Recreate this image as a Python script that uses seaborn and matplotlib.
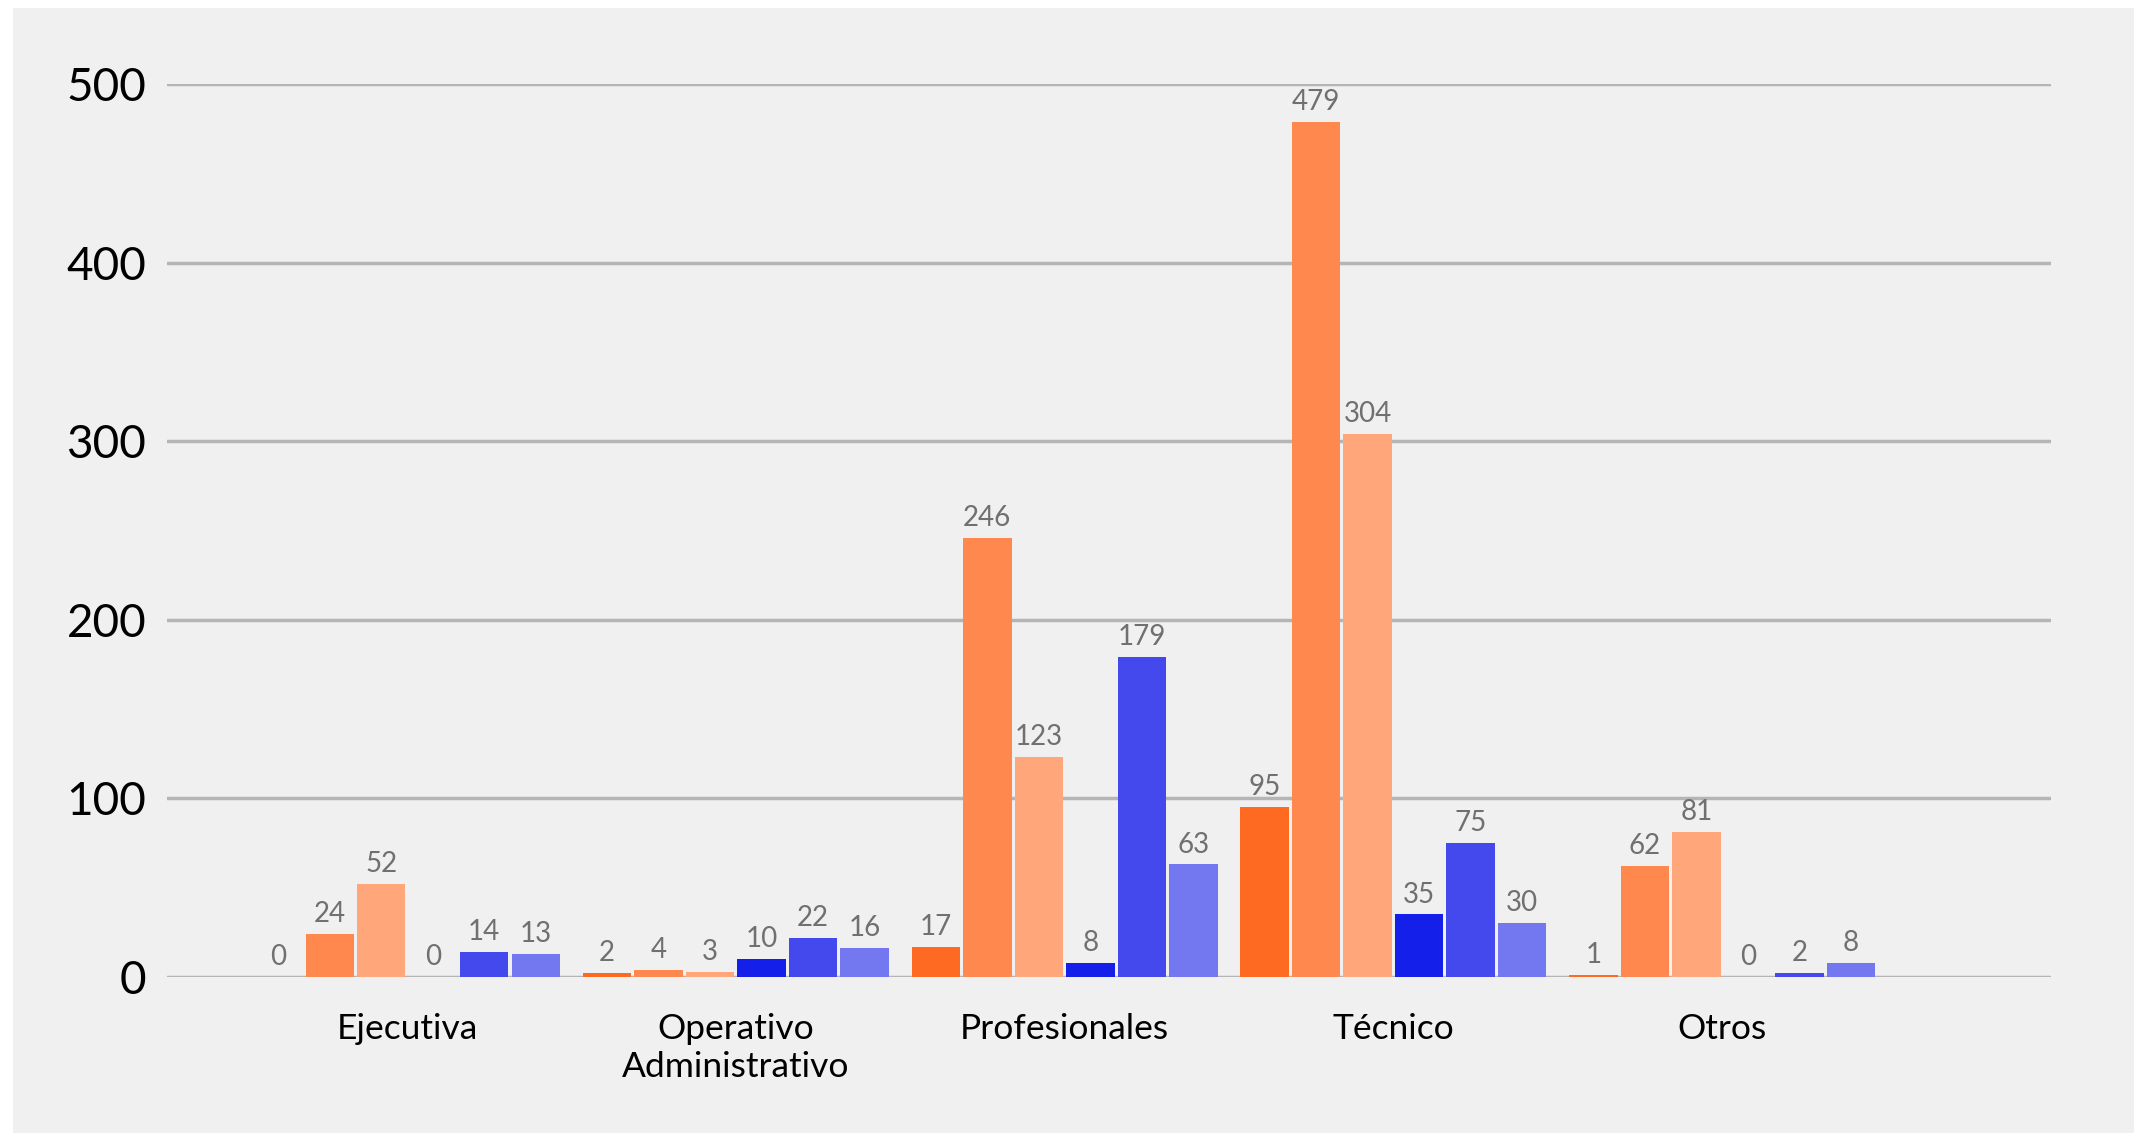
import matplotlib
matplotlib.use("Agg")
import matplotlib.pyplot as plt
import seaborn as sns
import pandas as pd
from matplotlib.patches import Rectangle

categorias = ["Ejecutiva", "Operativo\nAdministrativo", "Profesionales", "Técnico", "Otros"]
series = ["Serie 1", "Serie 2", "Serie 3", "Serie 4", "Serie 5", "Serie 6"]
serie_1 = [0, 2, 17, 95, 1]
serie_2 = [24, 4, 246, 479, 62]
serie_3 = [52, 3, 123, 304, 81]
serie_4 = [0, 10, 8, 35, 0]
serie_5 = [14, 22, 179, 75, 2]
serie_6 = [13, 16, 63, 30, 8]
colores = ["#FF6A23", "#FF884F", "#FFA67A", "#151FEA", "#4349EC", "#7378F1"]
yticks = [0, 100, 200, 300, 400, 500]

valores = [serie_1, serie_2, serie_3, serie_4, serie_5, serie_6]
rows = []
for s, vals in zip(series, valores):
    for c, v in zip(categorias, vals):
        rows.append({"categoria": c, "serie": s, "valor": v})
df = pd.DataFrame(rows)

sns.set_theme(style="white")
plt.rcParams["font.family"] = ["Lato", "DejaVu Sans"]

W, H = 2134, 1133
fig = plt.figure(figsize=(W / 100, H / 100), dpi=100, facecolor="white")
fig.patches.append(Rectangle((13 / W, 0), 1 - 13 / W, 1 - 8 / H,
                             transform=fig.transFigure, facecolor="#F0F0F0",
                             edgecolor="none", zorder=-10))

ax = fig.add_axes([167 / W, 1 - 977 / H, (2051 - 167) / W, (977 - 84) / H])
ax.set_facecolor("none")
ax.set_zorder(5)

sns.barplot(data=df, x="categoria", y="valor", hue="serie", order=categorias,
            hue_order=series, palette=colores, width=0.94, gap=0.06,
            legend=False, ax=ax, saturation=1, errorbar=None, zorder=3,
            linewidth=0)

for cont in ax.containers:
    ax.bar_label(cont, labels=[f"{int(v)}" for v in cont.datavalues],
                 padding=5, color="#707070", fontsize=20)

ax.set_ylim(0, 500)
ax.set_xlim(-0.73, 5.0)
ax.set_yticks(yticks)
ax.set_yticklabels([str(t) for t in yticks], fontsize=33, color="black")
ax.tick_params(axis="y", length=0, pad=15)
ax.tick_params(axis="x", length=0, pad=26, labelsize=25.5, colors="black")
for lab in ax.get_xticklabels():
    lab.set_linespacing(1.22)
ax.set_xlabel("")
ax.set_ylabel("")
for sp in ax.spines.values():
    sp.set_visible(False)
ax.yaxis.grid(True, color="#B5B5B5", linewidth=2.5)
ax.set_axisbelow(True)

fig.savefig("out.png", dpi=100, facecolor="white")
